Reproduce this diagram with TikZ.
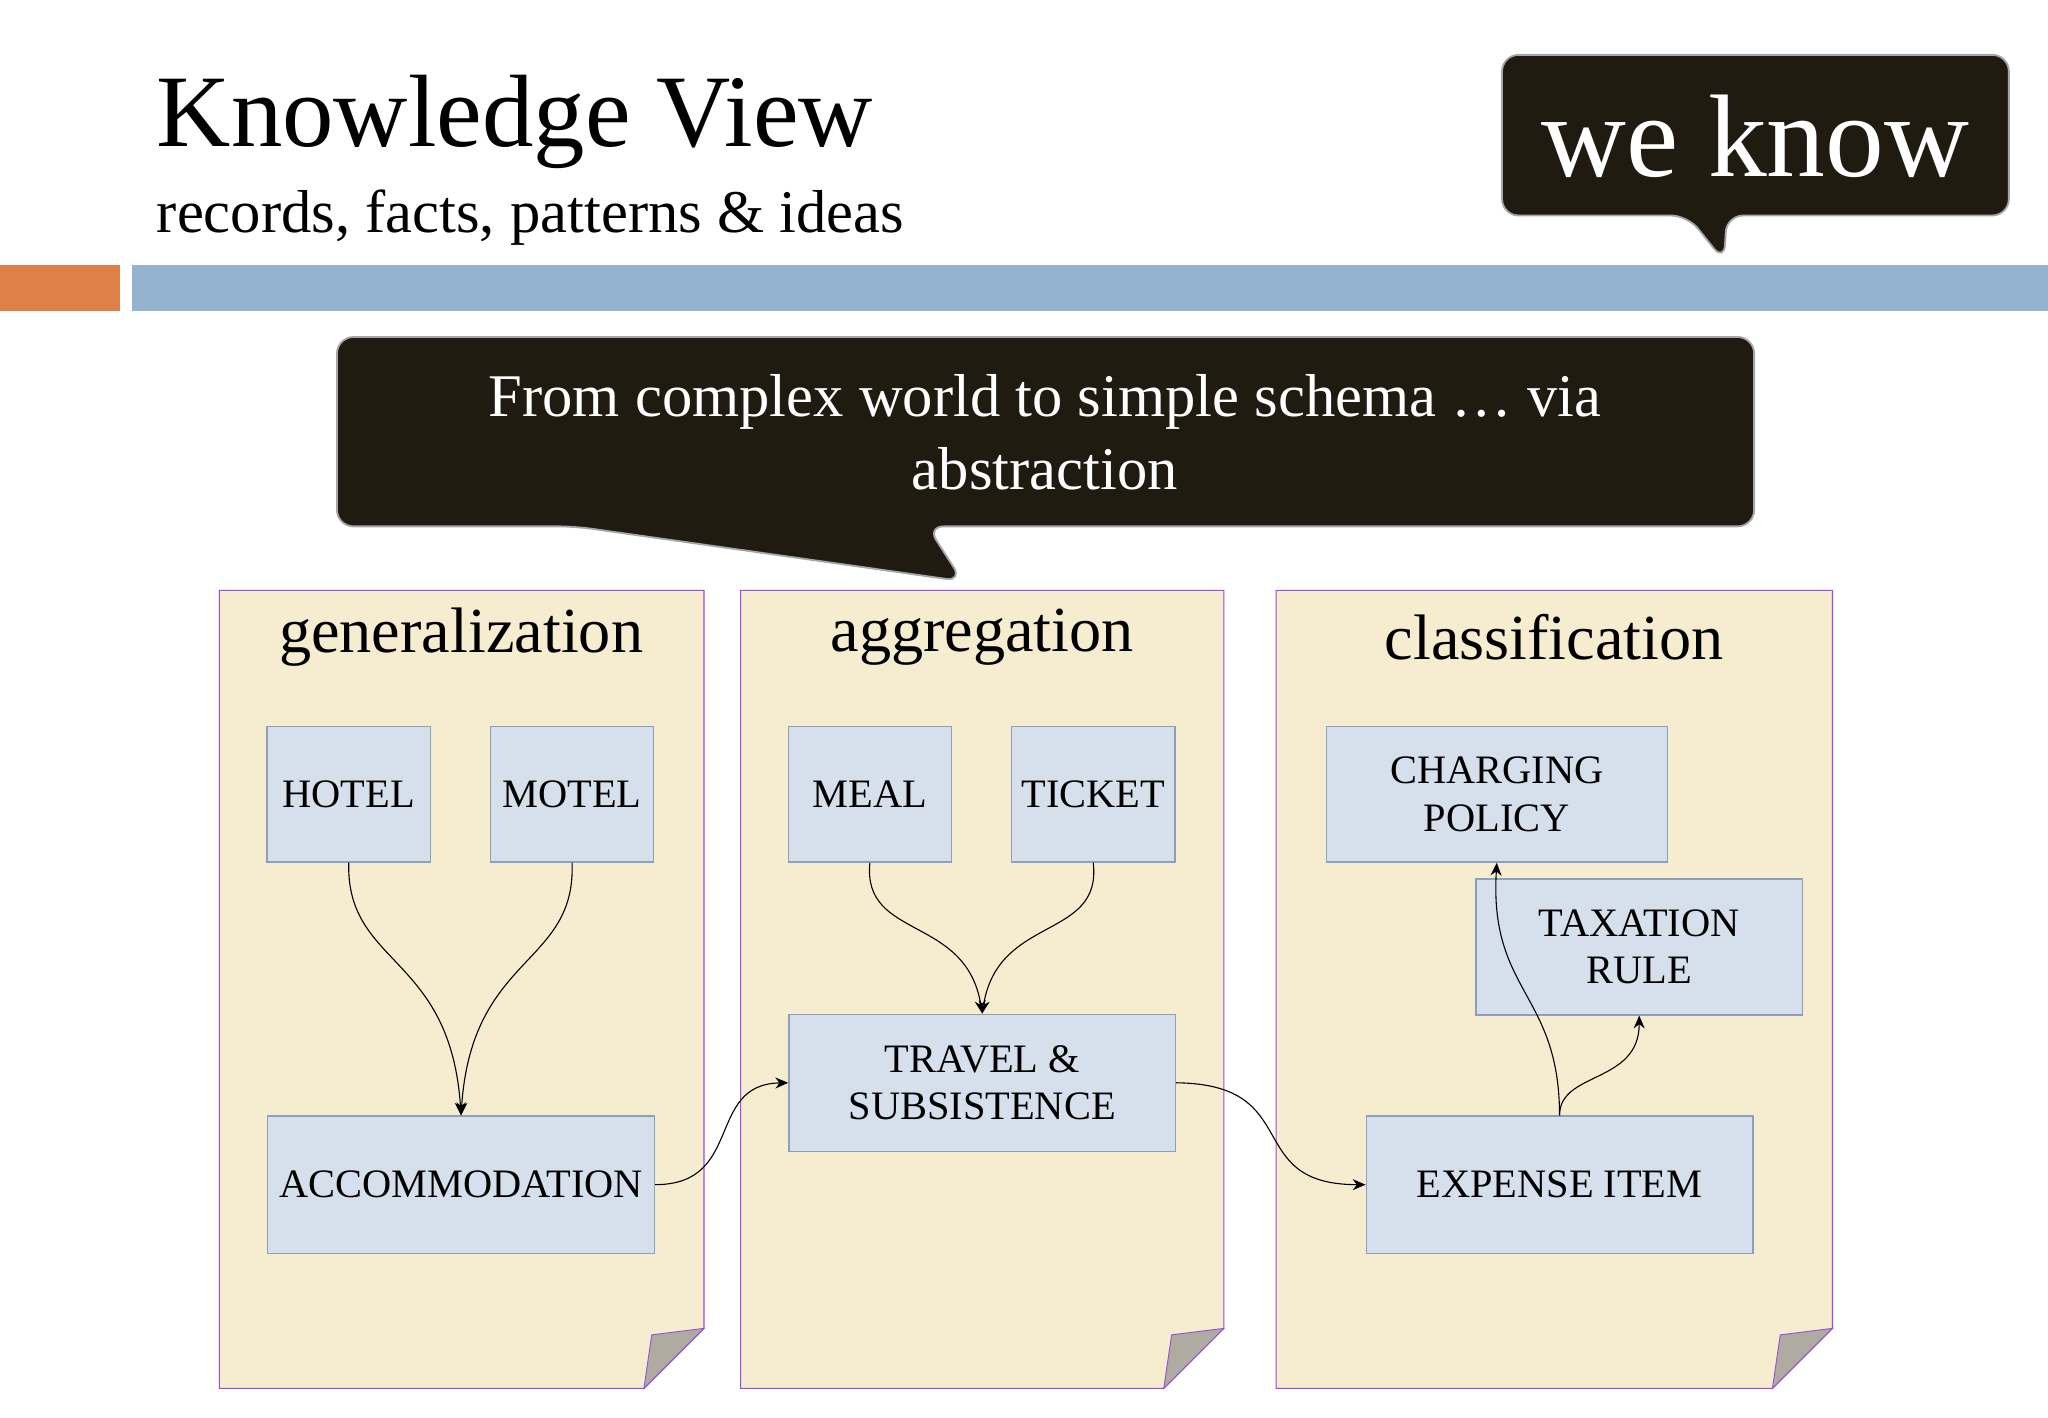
\documentclass[tikz,border=0pt]{standalone}
\usepackage{fontspec}
\setmainfont{Liberation Serif}
\usetikzlibrary{arrows.meta}
\definecolor{dark}{RGB}{32,27,16}
\definecolor{barblue}{RGB}{148,179,207}
\definecolor{barorange}{RGB}{222,128,72}
\definecolor{paper}{RGB}{246,236,208}
\definecolor{purp}{RGB}{150,80,220}
\definecolor{boxfill}{RGB}{214,224,236}
\definecolor{boxline}{RGB}{140,160,185}
\begin{document}
\begin{tikzpicture}[x=0.05cm,y=-0.05cm,
 panel/.style={fill=paper,draw=purp,line width=1.2pt},
 ear/.style={fill=gray!60!paper,draw=purp,line width=1pt},
 box/.style={fill=boxfill,draw=boxline,line width=1.5pt,align=center,font=\fontsize{44}{52}\selectfont,inner sep=0pt},
 ptitle/.style={font=\fontsize{70}{80}\selectfont},
 conn/.style={line width=1.2pt,-{Stealth[length=14pt,width=12pt]}},
 bubble/.style={fill=dark,draw=gray!70,line width=2pt,rounded corners=18pt}]
\useasboundingbox (0,0) rectangle (1568,1085);
\fill[white] (0,0) rectangle (1568,1085);
% title
\node[anchor=base west,font=\fontsize{112}{120}\selectfont,inner sep=0pt] (t) at (120,112) {Knowledge View};
\node[anchor=base west,font=\fontsize{66}{72}\selectfont,inner sep=0pt] (st) at (120,178) {records, facts, patterns \& ideas};
\fill[barorange] (0,203) rectangle (92,238);
\fill[barblue] (101,203) rectangle (1568,238);
% we know bubble
\draw[bubble] (1150,42) -- (1538,42) -- (1538,165) -- (1322,165) -- (1320,200) -- (1292,165) -- (1150,165) -- cycle;
\node[text=white,font=\fontsize{128}{130}\selectfont] (wk) at (1344,104) {we know};
% big bubble
\draw[bubble] (258,258) -- (1343,258) -- (1343,403) -- (710,403) -- (737,445) -- (440,403) -- (258,403) -- cycle;
\node[text=white,align=center,font=\fontsize{66}{80}\selectfont] (bb) at (800,331) {From complex world to simple schema … via\\abstraction};
% panels
\foreach \a/\b/\n in {168/539/p1,567/937/p2,977/1403/p3}{
 \draw[panel] (\a,452) -- (\b,452) -- (\b,1017) -- ({\b-46},1063) -- (\a,1063) -- cycle;
 \draw[ear] (\b,1017) -- ({\b-46},1063) -- ({\b-40},1022) -- cycle;
}
\node[ptitle] (g) at (353,488) {generalization};
\node[ptitle] (a) at (752,488) {aggregation};
\node[ptitle] (c) at (1190,488) {classification};
% boxes
\node[box,minimum width=125*0.05cm,minimum height=104*0.05cm] (hotel) at (267,608) {HOTEL};
\node[box,minimum width=125*0.05cm,minimum height=104*0.05cm] (motel) at (438,608) {MOTEL};
\node[box,minimum width=296*0.05cm,minimum height=105*0.05cm] (acc) at (353,907) {ACCOMMODATION};
\node[box,minimum width=125*0.05cm,minimum height=104*0.05cm] (meal) at (666,608) {MEAL};
\node[box,minimum width=125*0.05cm,minimum height=104*0.05cm] (ticket) at (837,608) {TICKET};
\node[box,minimum width=296*0.05cm,minimum height=105*0.05cm] (travel) at (752,829) {TRAVEL \&\\SUBSISTENCE};
\node[box,minimum width=261*0.05cm,minimum height=104*0.05cm] (charg) at (1146,608) {CHARGING\\POLICY};
\node[box,minimum width=250*0.05cm,minimum height=104*0.05cm] (tax) at (1255,725) {TAXATION\\RULE};
\node[box,minimum width=296*0.05cm,minimum height=105*0.05cm] (exp) at (1194,907) {EXPENSE ITEM};
% connectors
\draw[conn] (hotel.south) .. controls (265,740) and (345,730) .. (acc.north);
\draw[conn] (motel.south) .. controls (441,740) and (361,730) .. (acc.north);
\draw[conn] (meal.south) .. controls (660,720) and (740,700) .. (travel.north);
\draw[conn] (ticket.south) .. controls (844,720) and (764,700) .. (travel.north);
\draw[conn] (acc.east) .. controls (570,907) and (540,830) .. (travel.west);
\draw[conn] (travel.east) .. controls (1000,830) and (950,907) .. (exp.west);
\draw[conn] (exp.north) .. controls (1194,760) and (1140,760) .. (charg.south);
\draw[conn] (exp.north) .. controls (1194,820) and (1255,830) .. (tax.south);
\end{tikzpicture}
\end{document}
